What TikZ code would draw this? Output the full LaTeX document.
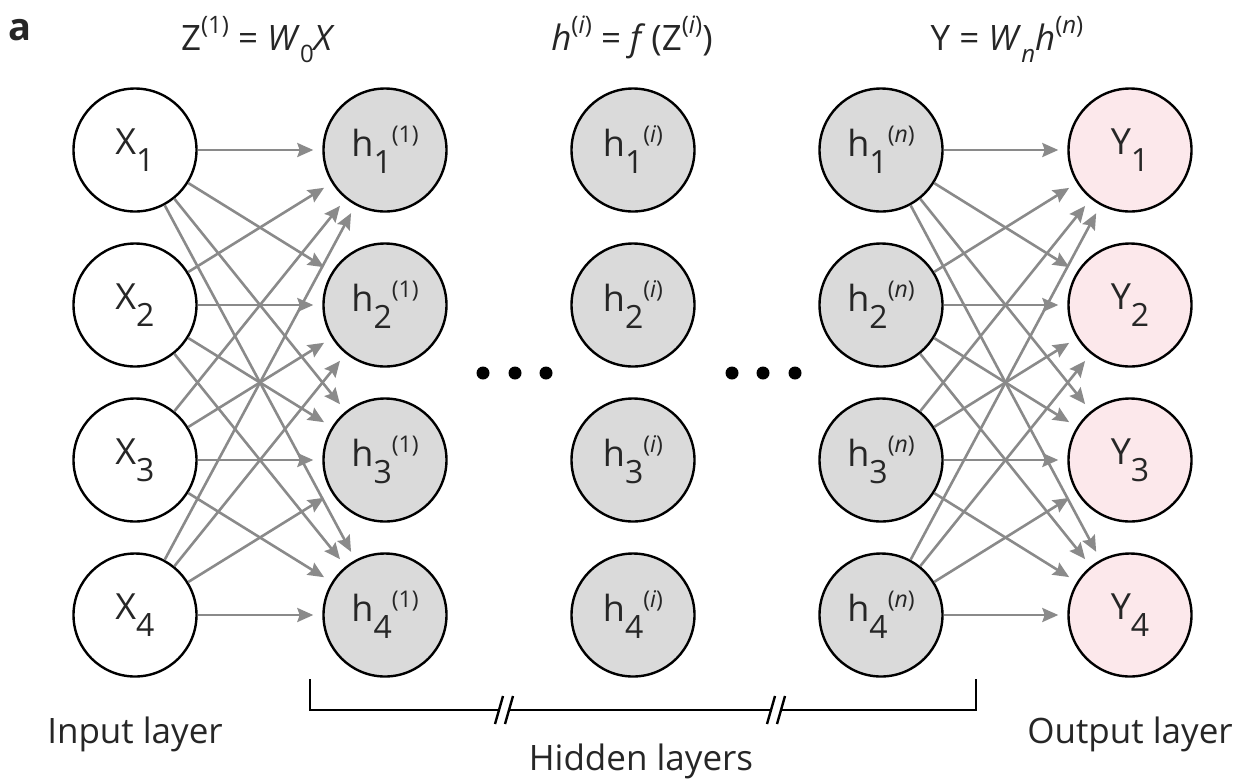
\documentclass[tikz,border=0pt]{standalone}
\usepackage{fontspec}
\setmainfont{Open Sans}
\usetikzlibrary{arrows.meta}
\definecolor{hidfill}{RGB}{218,218,218}
\definecolor{outfill}{RGB}{252,232,235}
\definecolor{edgegray}{RGB}{138,138,138}
\newcommand\nsub[1]{\raisebox{-8.5pt}{\fontsize{16}{16}\selectfont #1}}
\newcommand\nsup[1]{\raisebox{7pt}{\fontsize{11.5}{11.5}\selectfont #1}}
\newcommand\tsub[1]{\raisebox{-6pt}{\fontsize{12}{12}\selectfont #1}}
\newcommand\tsup[1]{\raisebox{8.5pt}{\fontsize{12}{12}\selectfont #1}}
\tikzset{
  neuron/.style={circle, draw=black, line width=1.2pt, minimum size=61.5pt, inner sep=0pt, font=\fontsize{18}{18}\selectfont, text=black!85},
  innode/.style={neuron, fill=white},
  hidnode/.style={neuron, fill=hidfill},
  outnode/.style={neuron, fill=outfill},
  edge/.style={draw=edgegray, line width=1.3pt, -{Stealth[length=8pt,width=7pt,inset=1.2pt]}, shorten >=4.5pt},
  txt/.style={inner sep=0pt, anchor=base, font=\fontsize{17.5}{17.5}\selectfont, text=black!85},
  dotmark/.style={circle, fill=black, inner sep=0pt, minimum size=6.5pt},
  brk/.style={line width=1.2pt, black}
}
\begin{document}
\begin{tikzpicture}[x=0.5pt,y=-0.5pt]
\useasboundingbox (0,0) rectangle (1237,778);
% columns
\foreach \r/\yy in {1/150,2/305,3/460,4/615}{
  \node[innode] (x\r) at (135,\yy) {X\nsub{\r}};
  \node[hidnode] (ha\r) at (385,\yy) {h\nsub{\r}\nsup{(1)}};
  \node[hidnode] (hi\r) at (633,\yy) {h\nsub{\r}\nsup{(\textit{i})}};
  \node[hidnode] (hn\r) at (881,\yy) {h\nsub{\r}\nsup{(\textit{n})}};
  \node[outnode] (y\r) at (1130,\yy) {Y\nsub{\r}};
}
% connections
\foreach \i in {1,...,4}{
  \foreach \j in {1,...,4}{
    \draw[edge] (x\i) -- (ha\j);
    \draw[edge] (hn\i) -- (y\j);
  }
}
% dots
\node[dotmark] (d1) at (483,373) {};
\node[dotmark] (d2) at (515,373) {};
\node[dotmark] (d3) at (546,373) {};
\node[dotmark] (d4) at (732,373) {};
\node[dotmark] (d5) at (763,373) {};
\node[dotmark] (d6) at (795,373) {};
% titles
\node[txt] (t0) at (20,40) {\fontsize{19}{19}\selectfont\bfseries a};
\node[txt] (t1) at (258,50) {Z\tsup{(1)} = \textit{W}\tsub{0}\textit{X}};
\node[txt] (t2) at (632,50) {\textit{h}\tsup{(\textit{i})} = \textit{f}\,(Z\tsup{(\textit{i})})};
\node[txt] (t3) at (1007,50) {Y = \textit{W}\tsub{\textit{n}}\textit{h}\tsup{(\textit{n})}};
% bracket
\draw[brk] (310,679) -- (310,710) -- (499,710);
\draw[brk] (509,710) -- (771,710);
\draw[brk] (781,710) -- (976,710) -- (976,679);
\draw[brk] (495,724) -- (503,696);
\draw[brk] (505,724) -- (513,696);
\draw[brk] (767,724) -- (775,696);
\draw[brk] (777,724) -- (785,696);
% layer labels
\node[txt] (lin) at (135,743) {Input layer};
\node[txt] (lout) at (1130,743) {Output layer};
\node[txt] (lhid) at (641,770) {Hidden layers};
\end{tikzpicture}
\end{document}
